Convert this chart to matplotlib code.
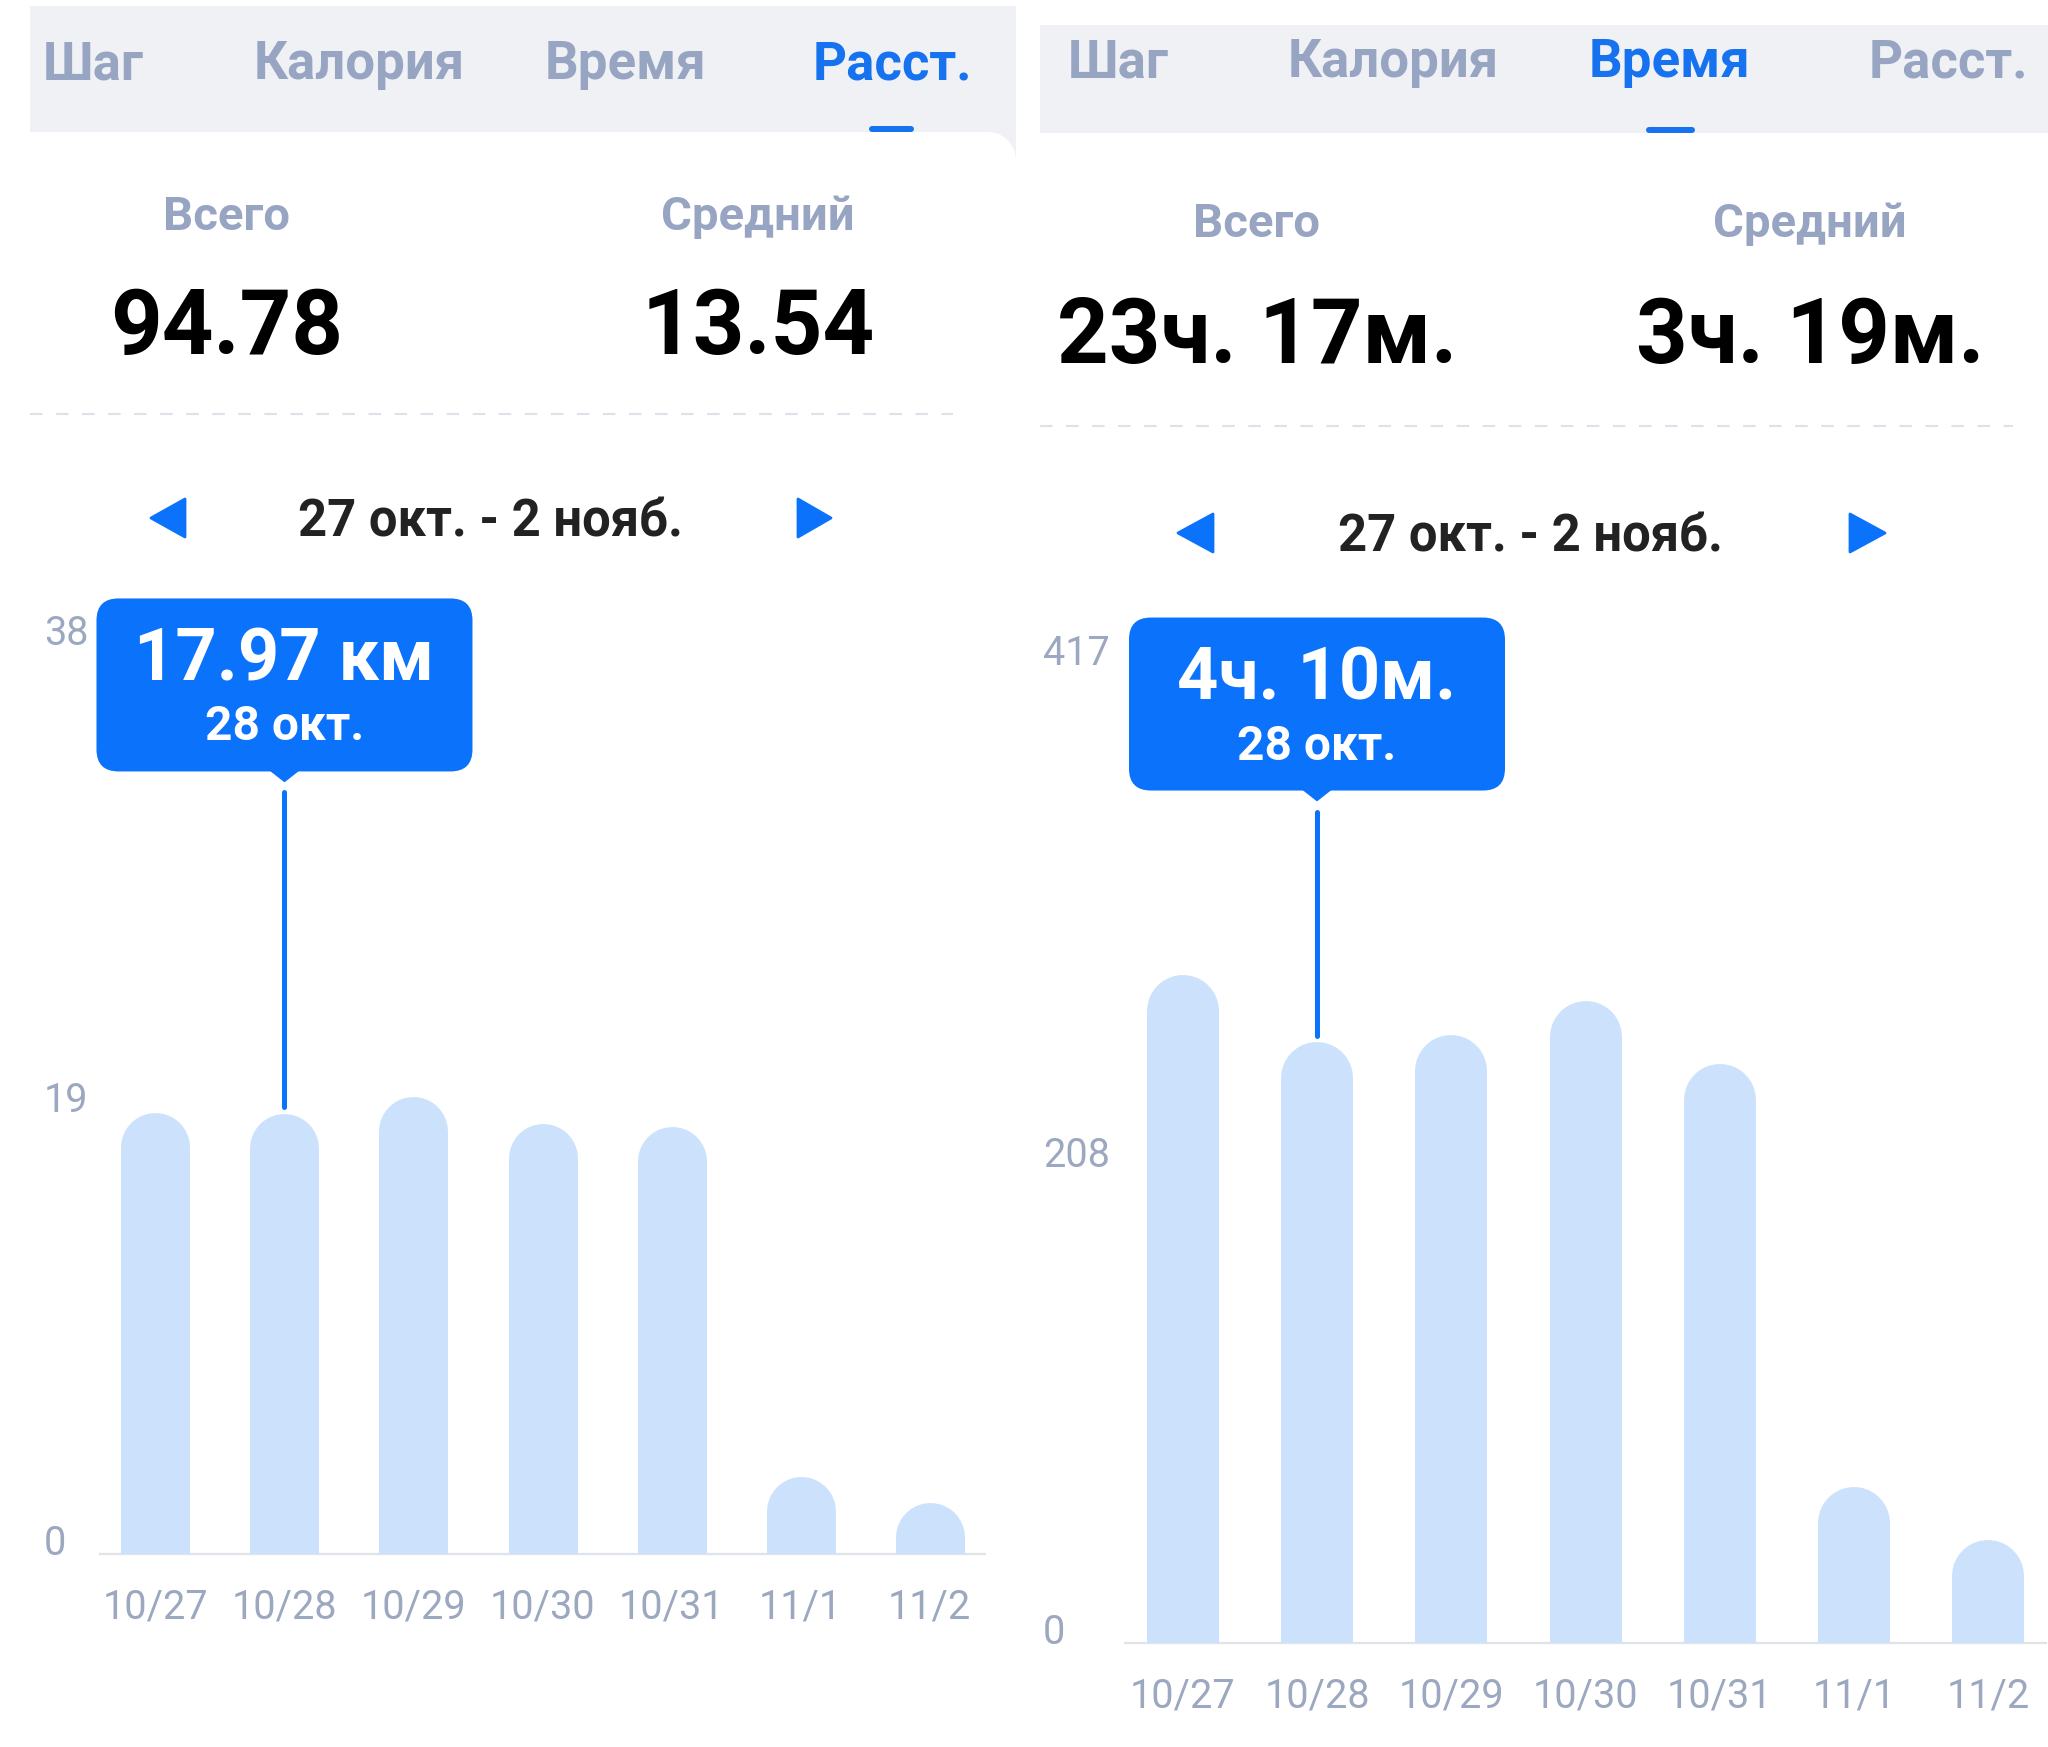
import matplotlib
matplotlib.use("Agg")
import matplotlib.pyplot as plt
from matplotlib.patches import FancyBboxPatch, Rectangle, Polygon, Circle

plt.rcParams['font.family'] = ['Roboto', 'DejaVu Sans']

# данные за неделю
days = ['10/27', '10/28', '10/29', '10/30', '10/31', '11/1', '11/2']
tabs = ['Шаг', 'Калория', 'Время', 'Расст.']
dist_km = [17.98, 17.97, 18.63, 17.55, 17.40, 3.17, 2.08]
time_min = [278, 250, 253, 267, 241, 65, 43]
dist_ticks = [0, 19, 38]
time_ticks = [0, 208, 417]
sel = 1
sel_date = '28 окт.'
week = '27 окт. - 2 нояб.'

W, H = 2048, 1747
BLUE = '#0a72fb'
TAB_BLUE = '#1672ee'
GRAY = '#97a5c3'
TICK = '#9ca8c0'
BAR = '#cce2fc'
TAB_BG = '#eff1f5'

fig = plt.figure(figsize=(W / 100, H / 100), dpi=100)
bg = fig.add_axes([0, 0, 1, 1])
bg.set_xlim(0, W)
bg.set_ylim(H, 0)
bg.axis('off')


def pt(px):
    return px * 0.72


def label(x, yc, s, size, color, weight='bold', ha='center'):
    # yc - середина высоты цифр/заглавных, в пикселях
    bg.text(x, yc + 0.355 * size / 0.72, s, fontsize=size, color=color,
            fontweight=weight, ha=ha, va='baseline')


def hm(m):
    m = int(m)
    return f'{m // 60}ч. {m % 60}м.'


def header(bar, tab_x, tab_y, active, uline, sums, sum_x, sum_y, val_y,
           dash, nav_x, nav_y, arrows):
    x0, y0, x1, y1 = bar
    bg.add_patch(Rectangle((x0, y0), x1 - x0, y1 - y0, fc=TAB_BG, ec='none'))
    for i, t in enumerate(tabs):
        label(tab_x[i], tab_y, t, 38, TAB_BLUE if i == active else GRAY)
    bg.plot(uline[:2], [uline[2]] * 2, color=TAB_BLUE, lw=pt(6), solid_capstyle='round')
    label(sum_x[0], sum_y, 'Всего', 34, GRAY)
    label(sum_x[1], sum_y, 'Средний', 34, GRAY)
    label(sum_x[0], val_y, sums[0], 65, 'black')
    label(sum_x[1], val_y, sums[1], 65, 'black')
    bg.plot(dash[:2], [dash[2]] * 2, color='#dde1e9', lw=1.5, ls=(0, (6, 6.5)))
    label(nav_x, nav_y, week, 36.5, '#222222', weight='bold')
    la, ra = arrows
    half = 19
    bg.add_patch(Polygon([(la[0], nav_y - 1), (la[1], nav_y - 1 - half), (la[1], nav_y - 1 + half)],
                         closed=True, fc=BLUE, ec=BLUE, lw=2, joinstyle='round'))
    bg.add_patch(Polygon([(ra[1], nav_y - 1), (ra[0], nav_y - 1 - half), (ra[0], nav_y - 1 + half)],
                         closed=True, fc=BLUE, ec=BLUE, lw=2, joinstyle='round'))


def chart(box, values, ticks, tick_x, bar_px, tip_main):
    x0, y_top, x1, y_bot = box
    ax = fig.add_axes([x0 / W, 1 - y_bot / H, (x1 - x0) / W, (y_bot - y_top) / H])
    ax.set_xlim(-0.43, 6.43)
    ax.set_ylim(0, ticks[-1])
    ax.patch.set_alpha(0)
    for s in ['top', 'left', 'right']:
        ax.spines[s].set_visible(False)
    ax.spines['bottom'].set_color('#dfe3ea')
    ax.spines['bottom'].set_linewidth(1.6)
    ax.set_xticks([])
    ax.set_yticks([])

    # столбики со скруглённым верхом
    r = bar_px / 2 * ticks[-1] / (y_bot - y_top)
    ax.vlines(range(len(values)), 0, [v - r for v in values], colors=BAR,
              linewidth=pt(bar_px), capstyle='round', zorder=3)

    for t in ticks:
        ty = H - ax.transData.transform((0, t))[1]
        label(tick_x, ty + (-13 if t == 0 else 10), str(t), 28.5, TICK, weight='normal', ha='left')
    for i, d in enumerate(days):
        xx = ax.transData.transform((i, 0))[0]
        label(xx, y_bot + 50, d, 28.5, TICK, weight='normal')

    # подсказка над выбранным днём
    bx, by = ax.transData.transform((sel, values[sel]))
    by = H - by
    w, h = 376, 173
    top = y_top - 23
    bg.add_patch(FancyBboxPatch((bx - w / 2, top), w, h,
                                boxstyle='round,pad=0,rounding_size=22', fc=BLUE, ec='none'))
    bg.add_patch(Polygon([(bx - 14, top + h - 1), (bx + 14, top + h - 1), (bx, top + h + 10)],
                         closed=True, fc=BLUE, ec=BLUE, lw=1, joinstyle='round'))
    bg.plot([bx, bx], [top + h + 21, by - 6], color=BLUE, lw=pt(5), solid_capstyle='round')
    label(bx, top + 56, tip_main, 52, 'white')
    label(bx, top + 125, sel_date, 34.5, 'white')


# левая панель: расстояние
tot_km = sum(dist_km)
header((30, 6, 1016, 132), [93, 359, 625, 892], 60.5, 3, (872, 911, 129),
       (f'{tot_km:.2f}', f'{tot_km / 7:.2f}'), (227, 758), 213, 322,
       (30, 953, 414), 490, 519, ((151, 185), (798, 831)))
# скруглённый угол белой карточки
bg.add_patch(Rectangle((988, 131), 28, 29, fc=TAB_BG, ec='none'))
bg.add_patch(Circle((988, 160), 28, fc='white', ec='none'))
chart((100, 1554 - 38 * 441 / dist_km[sel], 985, 1554), dist_km, dist_ticks, 44, 69,
      f'{dist_km[sel]:.2f} км')

# правая панель: время
tot_min = sum(time_min)
header((1040, 25, 2048, 133), [1118, 1393, 1670, 1948], 58.5, 2, (1649, 1692, 130),
       (hm(tot_min), hm(tot_min / 7)), (1257, 1810), 220, 331,
       (1040, 2013, 426), 1530, 534, ((1178, 1213), (1850, 1885)))
chart((1125, 1643 - 417 * 601 / time_min[sel], 2046, 1643), time_min, time_ticks, 1043, 72,
      hm(time_min[sel]))

fig.savefig('out.png', dpi=100, facecolor='white')
